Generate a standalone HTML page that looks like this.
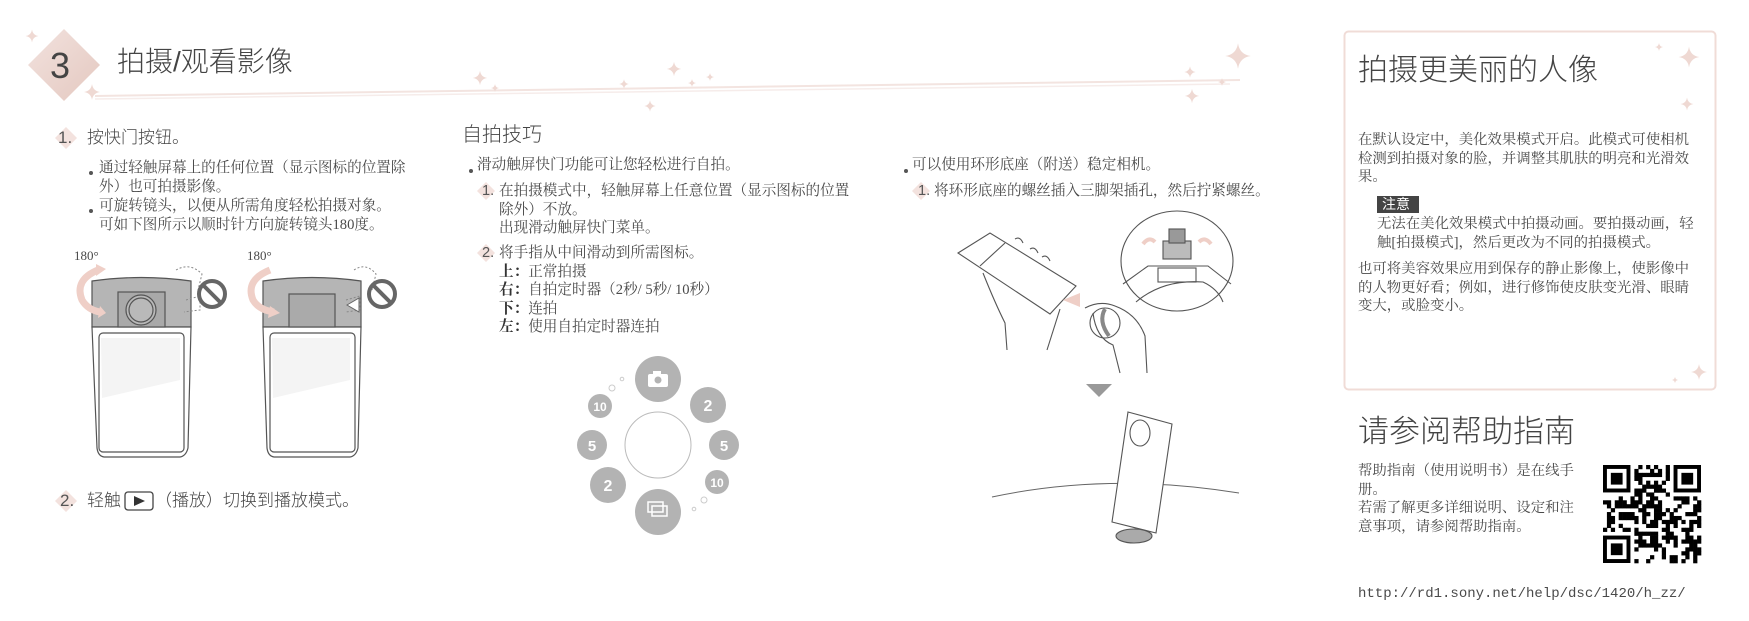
<!DOCTYPE html>
<html><head><meta charset="utf-8">
<style>
body{margin:0;background:#fff;}
#p{position:relative;width:1749px;height:621px;overflow:hidden;background:#fff;font-family:"Liberation Serif","Noto Serif CJK SC",serif;color:#4a4a4a;}
.t{position:absolute;white-space:nowrap;font-size:14.6px;line-height:18.5px;}
.s{font-family:"Liberation Sans","Noto Sans CJK SC",sans-serif;}
.h{font-family:"Liberation Sans","Noto Sans CJK SC",sans-serif;color:#444;font-weight:300;}
.b{font-weight:bold;color:#333;}
svg{position:absolute;left:0;top:0;}
</style></head><body><div id="p">
<svg width="1749" height="621" viewBox="0 0 1749 621">
<defs>
<g id="st"><path d="M0,-8 Q1,-1 8,0 Q1,1 0,8 Q-1,1 -8,0 Q-1,-1 0,-8Z" fill="#efd9d3"/></g>
<linearGradient id="dg" x1="0" y1="0" x2="1" y2="1"><stop offset="0" stop-color="#f2e2de"/><stop offset="1" stop-color="#e4c8c0"/></linearGradient>
</defs>
<polygon points="64,29 100,65 64,101 28,65" fill="url(#dg)"/>
<use href="#st" transform="translate(32,36) scale(0.8)"/>
<use href="#st" transform="translate(92,92) scale(1)"/>
<path d="M95,96 C400,92 800,84 1240,80" stroke="#f3e4e0" stroke-width="2" fill="none"/>
<path d="M95,99 C420,94 820,88 1230,84" stroke="#f6ecea" stroke-width="1.5" fill="none"/>
<use href="#st" transform="translate(480,78) scale(0.9)"/>
<use href="#st" transform="translate(495,88) scale(0.5)"/>
<use href="#st" transform="translate(624,84) scale(0.6)"/>
<use href="#st" transform="translate(674,69) scale(0.9)"/>
<use href="#st" transform="translate(692,83) scale(0.5)"/>
<use href="#st" transform="translate(710,77) scale(0.5)"/>
<use href="#st" transform="translate(650,106) scale(0.7)"/>
<use href="#st" transform="translate(1190,72) scale(0.7)"/>
<use href="#st" transform="translate(1222,82) scale(0.5)"/>
<use href="#st" transform="translate(1192,96) scale(0.9)"/>
<use href="#st" transform="translate(1238,56) scale(1.6)"/>
<polygon points="66,127 77,138 66,149 55,138" fill="#f3e2de"/>
<polygon points="66,490 77,501 66,512 55,501" fill="#f3e2de"/>
<polygon points="486,182 495,191 486,200 477,191" fill="#f3e2de"/>
<polygon points="486,244 495,253 486,262 477,253" fill="#f3e2de"/>
<polygon points="921,182 930,191 921,200 912,191" fill="#f3e2de"/>
<circle cx="91" cy="173" r="2" fill="#555"/>
<circle cx="91" cy="211" r="2" fill="#555"/>
<circle cx="471" cy="171" r="2" fill="#555"/>
<circle cx="906" cy="171" r="2" fill="#555"/>
<g stroke="#555" stroke-width="1.2" fill="none">
<path d="M92,281 Q141,274 191,281 L191,327 L92,327 Z" fill="#b5b5b5"/>
<path d="M92,327 L191,327 L188,448 Q186,456 180,457 L104,457 Q98,456 97,448 Z" fill="#fff"/>
<rect x="99" y="333" width="85" height="119" rx="4"/>
<rect x="118" y="292" width="47" height="35" fill="#a9a9a9"/>
<circle cx="141" cy="310" r="15" fill="#b9b9b9"/>
<circle cx="141" cy="310" r="12"/>
<path d="M263,281 Q312,274 361,281 L361,327 L263,327 Z" fill="#b5b5b5"/>
<path d="M263,327 L361,327 L358,448 Q356,456 350,457 L274,457 Q268,456 267,448 Z" fill="#fff"/>
<rect x="270" y="333" width="85" height="119" rx="4"/>
<rect x="289" y="294" width="46" height="33" fill="#aaa"/>
</g>
<polygon points="101,338 180,338 180,380 102,398" fill="#f4f4f4"/>
<polygon points="272,338 350,338 350,380 273,398" fill="#f4f4f4"/>
<g fill="none" stroke="#efcfc7" stroke-width="7">
<path d="M98,270 Q74,280 82,300 Q88,310 100,312"/>
<path d="M270,270 Q245,280 253,300 Q259,310 274,312"/>
</g>
<polygon points="96,264 106,269 96,276" fill="#efcfc7"/>
<polygon points="100,306 106,313 98,318" fill="#efcfc7"/>
<polygon points="270,306 280,313 268,318" fill="#efcfc7"/>
<g fill="none" stroke="#888" stroke-width="1" stroke-dasharray="2,2">
<path d="M176,270 Q190,262 202,274 L198,290"/><path d="M186,300 L200,296 L200,310 L184,312"/>
<path d="M354,270 Q366,262 376,274 L372,290"/><path d="M346,300 L360,296 L360,310 L346,312"/>
</g>
<g stroke="#666" stroke-width="4" fill="none">
<circle cx="212" cy="294" r="13"/><line x1="203" y1="285" x2="221" y2="303"/>
<circle cx="382" cy="294" r="13"/><line x1="373" y1="285" x2="391" y2="303"/>
</g>
<polygon points="347,305 359,298 359,312" fill="#fff" stroke="#666"/>
<rect x="125" y="492" width="28" height="18" rx="3" fill="none" stroke="#444" stroke-width="1.3"/>
<polygon points="134,496 145,501 134,506" fill="#333"/>
<circle cx="658" cy="445" r="33" fill="none" stroke="#bbb"/>
<g fill="#b3b3b3">
<circle cx="658" cy="379" r="23"/><circle cx="708" cy="405" r="18"/><circle cx="724" cy="445" r="15"/><circle cx="717" cy="482" r="12"/>
<circle cx="658" cy="512" r="23"/><circle cx="608" cy="485" r="18"/><circle cx="592" cy="445" r="15"/><circle cx="600" cy="406" r="12"/>
</g>
<circle cx="612" cy="388" r="3" fill="none" stroke="#ccc"/><circle cx="622" cy="379" r="1.8" fill="none" stroke="#ccc"/>
<circle cx="704" cy="500" r="3" fill="none" stroke="#ccc"/><circle cx="694" cy="509" r="1.8" fill="none" stroke="#ccc"/>
<rect x="648" y="374" width="20" height="13" rx="2" fill="#fff"/><rect x="653" y="371" width="8" height="4" fill="#fff"/><circle cx="658" cy="380" r="3.5" fill="#b3b3b3"/>
<g fill="none" stroke="#fff" stroke-width="1.5"><rect x="648" y="502" width="15" height="10"/><rect x="652" y="506" width="15" height="10"/></g>
<g fill="#fff" font-family="Liberation Sans, sans-serif" font-weight="bold" text-anchor="middle">
<text x="708" y="411" font-size="16">2</text><text x="724" y="451" font-size="15">5</text><text x="717" y="487" font-size="12">10</text>
<text x="608" y="491" font-size="16">2</text><text x="592" y="451" font-size="15">5</text><text x="600" y="411" font-size="12">10</text>
</g>
<g stroke="#555" stroke-width="1.1" fill="none">
<polygon points="958,253 990,233 1076,286 1050,314" fill="#fff"/>
<line x1="980" y1="266" x2="1005" y2="243"/>
<path d="M983,273 Q995,303 1005,323 L1007,350"/>
<path d="M1060,309 L1047,350"/>
<path d="M1015,239 q5,-3 8,4 M1030,249 q5,-3 8,4 M1042,257 q5,-3 8,4"/>
<path d="M1085,308 q15,-8 30,-2 q22,8 30,30 L1147,373"/>
<path d="M1093,313 q3,25 20,32 L1120,373"/>
<ellipse cx="1105" cy="323" rx="15" ry="15"/>
<ellipse cx="1177" cy="261" rx="56" ry="50" fill="#fff"/>
<path d="M1123,284 L1148,266 L1208,266 L1231,284"/>
<path d="M1136,302 Q1163,279 1203,282 Q1218,289 1223,302"/>
<rect x="1158" y="268" width="38" height="14"/>
<rect x="1163" y="241" width="28" height="18" fill="#bbb"/>
<rect x="1169" y="229" width="16" height="14" fill="#999"/>
</g>
<path d="M1105,309 Q1098,321 1109,336" stroke="#888" stroke-width="4" fill="none"/>
<polygon points="1063,300 1080,293 1080,307" fill="#efcfc7"/>
<path d="M1143,244 q6,-8 12,-2 M1211,244 q-6,-8 -12,-2" stroke="#efcfc7" stroke-width="4" fill="none"/>
<polygon points="1086,384 1112,384 1099,397" fill="#999"/>
<path d="M992,497 Q1110,472 1239,493" stroke="#666" fill="none"/>
<g stroke="#555" stroke-width="1.1">
<polygon points="1128,412 1172,424 1156,533 1112,522" fill="#fff"/>
<ellipse cx="1140" cy="433" rx="10" ry="13" fill="none"/>
<ellipse cx="1134" cy="536" rx="18" ry="7" fill="#aaa"/>
</g>
<rect x="1344.5" y="31.5" width="371" height="358" rx="4" fill="none" stroke="#f0dcd7" stroke-width="2"/>
<use href="#st" transform="translate(1689,57) scale(1.3)"/>
<use href="#st" transform="translate(1659,47) scale(0.5)"/>
<use href="#st" transform="translate(1687,104) scale(0.8)"/>
<use href="#st" transform="translate(1699,372) scale(1)"/>
<use href="#st" transform="translate(1675,380) scale(0.4)"/>
<rect x="1377" y="196" width="42" height="17" fill="#444"/>
<g id="qr"></g>
</svg>

<div class="t s" style="left:50px;top:43px;font-size:36px;line-height:46px;color:#444;">3</div>
<div class="t h" style="left:117px;top:44px;font-size:28px;line-height:36px;">拍摄/观看影像</div>

<div class="t s" style="left:58px;top:127px;font-size:17px;line-height:22px;color:#555">1.</div>
<div class="t h" style="left:87px;top:127px;font-size:17px;line-height:22px;">按快门按钮。</div>
<div class="t" style="left:99px;top:159px;">通过轻触屏幕上的任何位置（显示图标的位置除<br>外）也可拍摄影像。</div>
<div class="t" style="left:99px;top:197px;">可旋转镜头，以便从所需角度轻松拍摄对象。<br>可如下图所示以顺时针方向旋转镜头180度。</div>
<div class="t" style="left:74px;top:247px;font-size:13px;">180°</div>
<div class="t" style="left:247px;top:247px;font-size:13px;">180°</div>
<div class="t s" style="left:60px;top:490px;font-size:17px;line-height:22px;color:#555">2.</div>
<div class="t h" style="left:87px;top:490px;font-size:17px;line-height:22px;">轻触<span style="display:inline-block;width:34px"></span>（播放）切换到播放模式。</div>

<div class="t h" style="left:462px;top:122px;font-size:20px;line-height:26px;">自拍技巧</div>
<div class="t" style="left:477px;top:156px;">滑动触屏快门功能可让您轻松进行自拍。</div>
<div class="t s" style="left:482px;top:182px;color:#555">1.</div>
<div class="t" style="left:499px;top:182px;">在拍摄模式中，轻触屏幕上任意位置（显示图标的位置<br>除外）不放。<br>出现滑动触屏快门菜单。</div>
<div class="t s" style="left:482px;top:244px;color:#555">2.</div>
<div class="t" style="left:499px;top:244px;">将手指从中间滑动到所需图标。<br><span class="b">上：</span>正常拍摄<br><span class="b">右：</span>自拍定时器（2秒/ 5秒/ 10秒）<br><span class="b">下：</span>连拍<br><span class="b">左：</span>使用自拍定时器连拍</div>

<div class="t" style="left:912px;top:156px;">可以使用环形底座（附送）稳定相机。</div>
<div class="t s" style="left:918px;top:182px;color:#555">1.</div>
<div class="t" style="left:934px;top:182px;">将环形底座的螺丝插入三脚架插孔，然后拧紧螺丝。</div>

<div class="t h" style="left:1358px;top:52px;font-size:30px;line-height:38px;">拍摄更美丽的人像</div>
<div class="t" style="left:1358px;top:131px;font-size:14.4px;">在默认设定中，美化效果模式开启。此模式可使相机<br>检测到拍摄对象的脸，并调整其肌肤的明亮和光滑效<br>果。</div>
<div class="t s" style="left:1382px;top:196px;font-size:14px;line-height:17px;color:#fff;">注意</div>
<div class="t" style="left:1377px;top:215px;font-size:14.4px;">无法在美化效果模式中拍摄动画。要拍摄动画，轻<br>触[拍摄模式]，然后更改为不同的拍摄模式。</div>
<div class="t" style="left:1358px;top:260px;font-size:14.4px;">也可将美容效果应用到保存的静止影像上，使影像中<br>的人物更好看；例如，进行修饰使皮肤变光滑、眼睛<br>变大，或脸变小。</div>

<div class="t h" style="left:1358px;top:412px;font-size:31px;line-height:40px;">请参阅帮助指南</div>
<div class="t" style="left:1358px;top:462px;font-size:14.4px;">帮助指南（使用说明书）是在线手<br>册。<br>若需了解更多详细说明、设定和注<br>意事项，请参阅帮助指南。</div>
<div class="t" style="left:1358px;top:585px;font-family:'Liberation Mono',monospace;font-size:14px;">http://rd1.sony.net/help/dsc/1420/h_zz/</div>
</div>
<script>
(function(){var g=document.getElementById('qr'),ns='http://www.w3.org/2000/svg',N=25,x0=1603,y0=465,cs=98/N,s=7;
function r(){s=(s*1103515245+12345)&0x7fffffff;return s/0x7fffffff;}
function rect(x,y,w,h){var e=document.createElementNS(ns,'rect');e.setAttribute('x',x);e.setAttribute('y',y);e.setAttribute('width',w);e.setAttribute('height',h);e.setAttribute('fill','#000');g.appendChild(e);}
function fin(i,j){return (i<8&&j<8)||(i>=N-8&&j<8)||(i<8&&j>=N-8);}
for(var i=0;i<N;i++)for(var j=0;j<N;j++){if(fin(i,j))continue;if(r()<0.5)rect(x0+i*cs,y0+j*cs,cs+0.3,cs+0.3);}
[[0,0],[N-7,0],[0,N-7]].forEach(function(p){var x=x0+p[0]*cs,y=y0+p[1]*cs;rect(x,y,7*cs,7*cs);var w=document.createElementNS(ns,'rect');w.setAttribute('x',x+cs);w.setAttribute('y',y+cs);w.setAttribute('width',5*cs);w.setAttribute('height',5*cs);w.setAttribute('fill','#fff');g.appendChild(w);rect(x+2*cs,y+2*cs,3*cs,3*cs);});
})();
</script>
</body></html>
